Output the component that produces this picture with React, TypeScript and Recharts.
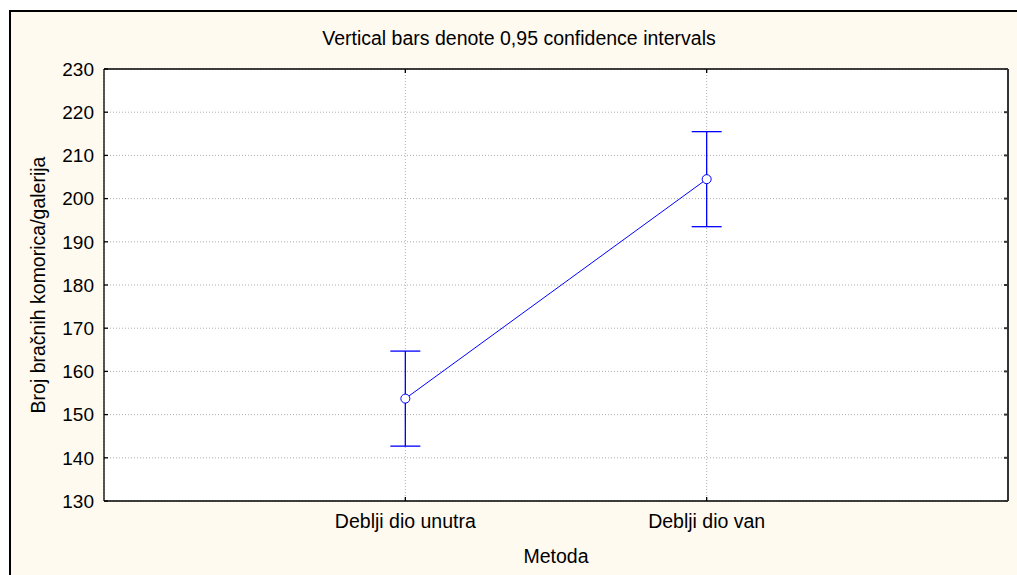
import React from 'react';
import { ComposedChart, Line, XAxis, YAxis, CartesianGrid, ErrorBar } from 'recharts';

const categories = ['Deblji dio unutra', 'Deblji dio van'];
const positions = [1, 2];
const means = [153.7, 204.5];
const ciLower = [142.7, 193.5];
const ciUpper = [164.7, 215.5];
const yTicks = [130, 140, 150, 160, 170, 180, 190, 200, 210, 220, 230];
const xDomain = [0, 3];
const yDomain = [130, 230];
const titleText = 'Vertical bars denote 0,95 confidence intervals';
const xTitle = 'Metoda';
const yTitle = 'Broj bračnih komorica/galerija';

const data = categories.map((c, i) => ({
  name: c,
  x: positions[i],
  mean: means[i],
  err: [means[i] - ciLower[i], ciUpper[i] - means[i]],
}));

const FONT = '"Liberation Sans", Arial, sans-serif';
const BLUE = '#0000ff';

export default function App() {
  return (
    <div style={{ position: 'absolute', left: 0, top: 0, width: 1017, height: 575, overflow: 'hidden', background: '#fff', fontFamily: FONT }}>
      <div style={{ position: 'absolute', left: 9, top: 10, width: 1100, height: 700, borderLeft: '2px solid #000', borderTop: '2px solid #000', background: '#fffaf0' }} />
      <div style={{ position: 'absolute', left: 169, width: 700, top: 27, textAlign: 'center', fontSize: 19.5, lineHeight: 'normal', color: '#000', fontFamily: FONT }}>{titleText}</div>
      <div style={{ position: 'absolute', left: 0, top: 0 }}>
        <ComposedChart width={1017} height={575} data={data} margin={{ top: 68, right: 8, bottom: 0, left: 0 }} style={{ fontFamily: FONT }}>
          <CartesianGrid xAxisId="b" yAxisId="l" stroke="#b0b0b0" strokeDasharray="1 2" fill="#fff" />
          <XAxis xAxisId="b" dataKey="x" type="number" domain={xDomain} ticks={positions} orientation="bottom" height={74}
            tickFormatter={(v: number) => categories[positions.indexOf(v)] ?? ''}
            tickSize={-4} tickMargin={17} stroke="#000" strokeWidth={1.3} tick={{ fill: '#000', fontSize: 19.5 }}
            label={{ value: xTitle, position: 'insideBottom', offset: 12, fill: '#000', fontSize: 19.5 }} />
          <XAxis xAxisId="t" dataKey="x" type="number" domain={xDomain} ticks={positions} orientation="top" height={1}
            tickFormatter={() => ''} tickSize={-4} stroke="#000" strokeWidth={1.3} />
          <YAxis yAxisId="l" type="number" domain={yDomain} ticks={yTicks} width={104} interval={0}
            tickSize={-4} tickMargin={14} stroke="#000" strokeWidth={1.3} tick={{ fill: '#000', fontSize: 19 }}
            label={{ value: yTitle, angle: -90, position: 'insideLeft', offset: 38, fill: '#000', fontSize: 19.5, style: { textAnchor: 'middle' } }} />
          <YAxis yAxisId="r" orientation="right" type="number" domain={yDomain} ticks={yTicks} width={1} interval={0}
            tickFormatter={() => ''} tickSize={-4} stroke="#333" strokeWidth={2} />
          <Line xAxisId="b" yAxisId="l" dataKey="mean" stroke={BLUE} strokeWidth={1} isAnimationActive={false}
            dot={{ r: 4.5, fill: '#fff', stroke: BLUE, strokeWidth: 1 }} activeDot={false}>
            <ErrorBar dataKey="err" direction="y" width={15} stroke={BLUE} strokeWidth={1.3} isAnimationActive={false} />
          </Line>
          <Line xAxisId="t" yAxisId="r" dataKey="mean" stroke="none" dot={false} activeDot={false} legendType="none" isAnimationActive={false} />
        </ComposedChart>
      </div>
    </div>
  );
}
